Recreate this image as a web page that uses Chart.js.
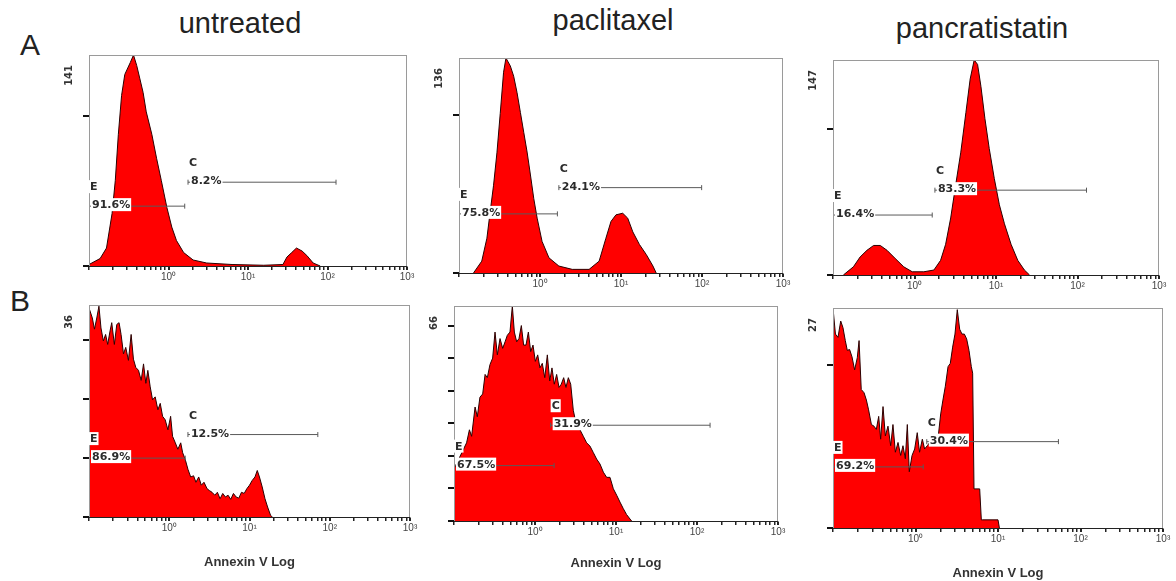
<!DOCTYPE html>
<html>
<head>
<meta charset="utf-8">
<title>Annexin V histograms</title>
<script src="https://cdn.jsdelivr.net/npm/chart.js@4.4.1/dist/chart.umd.min.js"></script>
<style>
  body { margin: 0; background: #fff; }
  #fig { position: relative; width: 1176px; height: 581px; overflow: hidden; background: #fff;
         font-family: "Liberation Sans", Arial, sans-serif; color: #222; }
  #fig canvas { position: absolute; }
  .col { position: absolute; font-size: 29px; line-height: 29px; transform: translateX(-50%); white-space: nowrap; }
  .row { position: absolute; font-size: 30px; line-height: 30px; }
</style>
</head>
<body>
<div id="fig"></div>
<script>
// column titles and row letters
const treatments = ["untreated", "paclitaxel", "pancratistatin"];
const rows = ["A", "B"];

// count axis: value printed at the top of each panel, and its tick marks
const yMax = [141, 136, 147, 36, 66, 27];
const yTicks = [[0, 100], [0, 100], [0, 100], [0, 10, 20, 30], [0, 10, 20, 30, 40, 50, 60], [0, 20]];

// Annexin V log axis
const decades = [0.1, 1, 10, 100];
const decadeLabels = { 1: "10⁰", 10: "10¹", 100: "10²", 1000: "10³" };
const xTitle = "Annexin V Log";

// histograms (Annexin V value, events)
const aUntreatedX = [0.1, 0.138, 0.166, 0.195, 0.214, 0.234, 0.257, 0.282, 0.331, 0.363, 0.398, 0.437, 0.479, 0.525, 0.617, 0.708, 0.813, 0.955, 1.10, 1.26, 1.55, 2.04, 3.02, 6.3, 15.8, 27.5, 30.9, 35.5, 40.7, 47.9, 55, 66, 81];
const aUntreatedN = [1, 5, 12, 35, 57, 88, 114, 128, 136, 141, 134, 125, 116, 103, 88, 72, 57, 39, 26, 17, 9, 4, 2, 1, 0.5, 1, 6, 9, 12, 10, 7, 2, 0];

const aPaclitaxelX = [0.151, 0.191, 0.221, 0.243, 0.267, 0.294, 0.323, 0.355, 0.380, 0.430, 0.473, 0.521, 0.573, 0.630, 0.693, 0.762, 0.838, 0.922, 1.06, 1.29, 1.71, 2.5, 4.04, 5.37, 6.51, 7.52, 8.67, 10.5, 12.1, 14.0, 16.9, 20.5, 24.8, 27.2];
const aPaclitaxelN = [0, 7.5, 22, 39, 55.5, 76, 101, 127, 136, 131, 124.5, 114, 101.5, 89, 76.5, 62, 47, 34.7, 20, 9.6, 4.4, 2.3, 2.3, 7.5, 22, 32.6, 36.8, 37.8, 34.7, 26, 18, 11.7, 4.4, 0];

const aPancratistatinX = [0.134, 0.178, 0.215, 0.261, 0.315, 0.380, 0.460, 0.582, 0.738, 0.938, 1.30, 1.73, 2.09, 2.41, 2.78, 3.21, 3.70, 4.27, 4.82, 5.40, 5.94, 6.53, 7.31, 8.26, 9.53, 11.0, 12.7, 15.3, 18.5, 22.3, 25.8];
const aPancratistatinN = [0, 5.6, 12.3, 16.9, 20.2, 20.2, 16.9, 11.2, 5.6, 2.2, 2.2, 3.4, 10, 21, 39, 62, 84, 111, 134, 147, 144, 129, 107, 86.5, 66, 48, 35, 21, 10, 3.4, 0];

const bUntreatedX = [0.1, 0.110, 0.117, 0.125, 0.133, 0.141, 0.151, 0.161, 0.171, 0.183, 0.192, 0.207, 0.222, 0.237, 0.251, 0.269, 0.287, 0.310, 0.335, 0.358, 0.383, 0.414, 0.447, 0.478, 0.511, 0.541, 0.579, 0.619, 0.668, 0.722, 0.772, 0.826, 0.891, 0.962, 1.04, 1.10, 1.19, 1.28, 1.39, 1.47, 1.58, 1.71, 1.85, 2.01, 2.15, 2.33, 2.51, 2.71, 2.96, 3.16, 3.41, 3.69, 3.98, 4.30, 4.64, 5.01, 5.41, 5.84, 6.31, 6.81, 7.36, 7.94, 8.58, 9.26, 10.0, 10.8, 11.7, 12.5, 13.3, 14.4, 15.6, 16.8, 18.3, 19.2];
const bUntreatedN = [35.5, 33.8, 31.9, 33.8, 35.8, 32.1, 29.9, 31.0, 29.3, 31.6, 33.0, 29.3, 32.7, 33.0, 31.0, 27.7, 28.8, 26.6, 31.0, 26.8, 25.4, 24.9, 23.2, 26.0, 22.7, 24.9, 22.1, 19.9, 20.4, 18.2, 19.3, 17.1, 16.5, 14.8, 17.1, 13.7, 12.6, 11.5, 12.6, 10.9, 9.8, 8.1, 6.8, 7.0, 5.9, 6.8, 5.4, 5.9, 4.8, 4.5, 4.2, 3.7, 4.2, 3.1, 4.0, 3.4, 3.7, 3.0, 4.0, 3.4, 3.2, 4.2, 4.0, 4.8, 5.4, 6.2, 6.8, 7.9, 6.8, 5.1, 3.1, 1.7, 0.3, 0];

const bPaclitaxelX = [0.1, 0.143, 0.155, 0.165, 0.182, 0.194, 0.209, 0.226, 0.242, 0.258, 0.278, 0.300, 0.321, 0.343, 0.370, 0.399, 0.427, 0.455, 0.491, 0.525, 0.556, 0.594, 0.634, 0.678, 0.724, 0.774, 0.828, 0.885, 0.945, 1.01, 1.08, 1.15, 1.23, 1.32, 1.42, 1.52, 1.62, 1.73, 1.85, 1.98, 2.11, 2.26, 2.41, 2.58, 2.76, 2.97, 3.27, 3.59, 3.95, 4.34, 4.77, 5.25, 5.77, 6.34, 6.98, 7.67, 8.43, 9.27, 10.2, 11.2, 12.3, 13.5, 14.9, 15.6];
const bPaclitaxelN = [16, 24, 28, 26, 35, 32, 38, 39, 45, 44, 48, 50, 58, 51, 56, 53, 55, 57, 58, 66, 58, 55, 56, 60, 54, 54, 58, 52, 54, 49, 51, 47, 48.4, 44, 51, 43, 47, 42, 45, 41, 42, 44, 41, 44, 42, 34, 29, 28, 26, 24, 23, 21, 19, 17.5, 15, 13.4, 13.4, 9.9, 7.9, 5.8, 3.8, 2, 0.6, 0];

const bPancratistatinX = [0.100, 0.107, 0.115, 0.124, 0.132, 0.141, 0.149, 0.159, 0.170, 0.183, 0.197, 0.207, 0.220, 0.238, 0.254, 0.270, 0.292, 0.314, 0.335, 0.358, 0.378, 0.404, 0.431, 0.464, 0.500, 0.533, 0.570, 0.614, 0.661, 0.705, 0.753, 0.796, 0.841, 0.908, 0.977, 1.05, 1.12, 1.21, 1.29, 1.39, 1.49, 1.58, 1.71, 1.87, 2.02, 2.15, 2.30, 2.48, 2.64, 2.82, 3.01, 3.21, 3.43, 3.66, 3.91, 4.17, 4.45, 4.75, 4.93, 5.12, 6.00, 6.28, 6.52, 10.0, 10.4];
const bPancratistatinN = [27, 23.8, 23.4, 25.4, 24.6, 23.0, 21.8, 21.9, 21.0, 19.4, 20.9, 23.0, 17.0, 16.6, 15.7, 14.5, 12.7, 12.5, 12.1, 13.7, 10.9, 14.9, 11.3, 12.5, 10.1, 12.7, 9.3, 10.5, 8.9, 10.1, 8.5, 12.7, 6.9, 8.9, 9.7, 11.7, 9.3, 10.9, 9.7, 10.1, 10.5, 10.1, 10.9, 10.9, 14.0, 15.7, 17.4, 19.8, 20.2, 22.2, 23.8, 26.8, 24.4, 23.8, 23.8, 23.2, 21.8, 19.8, 19.0, 4.8, 4.8, 1.0, 1.0, 1.0, 0];

// marker gates [from, to, drawn at count]
const gateE = [[0.1, 1.6, 40], [0.1, 1.64, 37.4], [0.1, 1.65, 41], [0.1, 1.58, 10], [0.1, 1.72, 17], [0.1, 1.24, 7.5]];
const gateC = [[1.76, 128, 56], [1.71, 99, 54], [1.78, 129, 58], [1.71, 71, 14], [1.56, 145, 29.4], [1.37, 54, 10.6]];
const pctE = ["91.6%", "75.8%", "16.4%", "86.9%", "67.5%", "69.2%"];
const pctC = ["8.2%", "24.1%", "83.3%", "12.5%", "31.9%", "30.4%"];

const panels = [
  [aUntreatedX, aUntreatedN], [aPaclitaxelX, aPaclitaxelN], [aPancratistatinX, aPancratistatinN],
  [bUntreatedX, bUntreatedN], [bPaclitaxelX, bPaclitaxelN], [bPancratistatinX, bPancratistatinN],
];

// page layout: plot frames [left, top, right, bottom] and room under each x axis
const boxes = [[89, 52, 407, 266], [459, 55, 783, 273], [833, 57, 1159, 275],
               [89, 302, 410, 517], [454, 303, 778, 521], [833, 305, 1163, 528]];
const axisH = [20, 20, 20, 57, 54, 57];
const titlePos = [[240, 9], [613, 6], [982, 14]];
const rowPos = [[20, 30], [10, 286]];

const fig = document.getElementById("fig");
treatments.forEach((t, i) => {
  const d = document.createElement("div");
  d.className = "col";
  d.textContent = t;
  d.style.left = titlePos[i][0] + "px";
  d.style.top = titlePos[i][1] + "px";
  fig.appendChild(d);
});
rows.forEach((r, i) => {
  const d = document.createElement("div");
  d.className = "row";
  d.textContent = r;
  d.style.left = rowPos[i][0] + "px";
  d.style.top = rowPos[i][1] + "px";
  fig.appendChild(d);
});

Chart.defaults.font.family = '"Liberation Sans", Arial, sans-serif';

function tag(ctx, text, x, base, font) {
  ctx.font = font;
  const w = ctx.measureText(text).width;
  ctx.fillStyle = "#fff";
  ctx.fillRect(x - 1, base - 10, w + 2, 13);
  ctx.fillStyle = "#2b2b2b";
  ctx.textAlign = "left";
  ctx.textBaseline = "alphabetic";
  ctx.fillText(text, x, base);
}

function marks(i) {
  return {
    id: "marks" + i,
    afterDatasetsDraw(chart) {
      const { ctx, chartArea: a, scales: { x, y } } = chart;
      ctx.save();
      ctx.strokeStyle = "#9a9a9a";
      ctx.lineWidth = 1;
      ctx.strokeRect(a.left + 0.5, a.top + 0.5, a.right - a.left - 1, a.bottom - a.top);
      ctx.strokeStyle = "#222";
      ctx.beginPath();
      ctx.moveTo(a.left, a.bottom + 0.5);
      ctx.lineTo(a.right, a.bottom + 0.5);
      ctx.stroke();

      [[gateE[i], "E", pctE[i]], [gateC[i], "C", pctC[i]]].forEach(([g, letter, pct]) => {
        const gx = x.getPixelForValue(g[0]);
        const gy = y.getPixelForValue(g[2]);
        tag(ctx, letter, gx + 1, gy - 16, 'bold 11px "DejaVu Sans"');
        tag(ctx, pct, gx + 3, gy + 2, 'bold 11px "DejaVu Sans"');
      });

      ctx.translate(a.left - 20, y.getPixelForValue(yMax[i]) + 10);
      ctx.rotate(-Math.PI / 2);
      ctx.font = 'bold 10px "DejaVu Sans"';
      ctx.textAlign = "right";
      ctx.textBaseline = "middle";
      ctx.fillStyle = "#333";
      ctx.fillText(String(yMax[i]), 0, 0);
      ctx.restore();
    },
  };
}

boxes.forEach((b, i) => {
  const [L, T, R, B] = b;
  const yW = 30, padTop = 2, padRight = 12;
  const cv = document.createElement("canvas");
  cv.width = R - L + yW + padRight;
  cv.height = B - T + padTop + axisH[i];
  cv.style.left = L - yW + "px";
  cv.style.top = T - padTop + "px";
  fig.appendChild(cv);

  const [xs, ns] = panels[i];
  const gateSet = (g) => ({
    data: [{ x: g[0], y: g[2] }, { x: g[1], y: g[2] }],
    borderColor: "#5a5a5a",
    borderWidth: 1,
    pointStyle: "line",
    pointRotation: 90,
    pointRadius: 2.5,
    pointBorderColor: "#5a5a5a",
    pointBorderWidth: 1,
    fill: false,
    order: 0,
  });

  new Chart(cv, {
    type: "line",
    data: {
      datasets: [
        gateSet(gateE[i]),
        gateSet(gateC[i]),
        {
          data: xs.map((v, k) => ({ x: v, y: ns[k] })),
          borderColor: "#2a0000",
          borderWidth: 1,
          backgroundColor: "#ff0000",
          fill: "origin",
          pointRadius: 0,
          tension: 0,
          order: 1,
        },
      ],
    },
    options: {
      responsive: false,
      animation: false,
      devicePixelRatio: 1,
      layout: { padding: { top: padTop, right: padRight, left: 0, bottom: 0 } },
      plugins: { legend: { display: false }, tooltip: { enabled: false } },
      scales: {
        x: {
          type: "logarithmic",
          min: 0.1,
          max: 1000,
          afterBuildTicks: (s) => {
            const t = [];
            decades.forEach((d) => [1, 2, 3, 4, 5, 6, 7, 8, 9].forEach((m) => t.push({ value: d * m })));
            t.push({ value: 1000 });
            s.ticks = t;
          },
          afterFit: (s) => { s.height = axisH[i]; },
          grid: {
            drawOnChartArea: false,
            tickLength: 4,
            color: "#222",
            lineWidth: (c) => (c.tick && decadeLabels[c.tick.value] ? 2 : 1.5),
          },
          border: { color: "#222" },
          ticks: {
            autoSkip: false,
            maxRotation: 0,
            minRotation: 0,
            padding: 1,
            color: "#444",
            font: { size: 10 },
            callback: (v) => decadeLabels[v] || "",
          },
          title: {
            display: i >= 3,
            text: xTitle,
            color: "#333",
            font: { size: 13, weight: "bold" },
            padding: { top: 0, bottom: 4 },
          },
        },
        y: {
          min: 0,
          max: yMax[i],
          afterBuildTicks: (s) => { s.ticks = yTicks[i].map((v) => ({ value: v })); },
          afterFit: (s) => { s.width = yW; },
          grid: { drawOnChartArea: false, tickLength: 6, lineWidth: 2, color: "#111" },
          border: { color: "#9a9a9a" },
          ticks: { display: false },
        },
      },
    },
    plugins: [marks(i)],
  });
});
</script>
</body>
</html>
